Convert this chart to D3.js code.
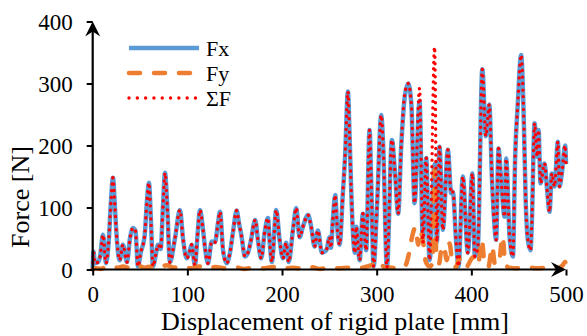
<!DOCTYPE html>
<html>
<head>
<meta charset="utf-8">
<script src="https://cdn.jsdelivr.net/npm/d3@7"></script>
<style>
  body { margin: 0; background: #fff; }
  svg text { font-family: "Liberation Serif", "Times New Roman", serif !important; fill: #000; }
</style>
</head>
<body>
<div id="chart"></div>
<script>
const dispX = [0, 0.8, 2.4, 5.6, 7.7, 10.9, 14.0, 16.9, 19.3, 21.4, 23.5, 24.6, 28.5, 31.9, 36.2, 39.4, 42.6, 45.2, 47.8, 50.9,
  54.9, 57.3, 59.4, 61.5, 63.7, 66.8, 69.0, 71.8, 74.2, 76.4, 78.5, 81.6, 86.9, 92.2, 95.4, 99.3, 101.7, 104.5, 108.0, 110.7,
  113.3, 116.5, 118.6, 121.8, 125.7, 129.2, 132.4, 134.5, 137.7, 141.5, 145.0, 148.2, 152.1, 154.5, 157.3, 160.8, 164.0, 167.2, 171.7, 174.6,
  178.0, 181.6, 185.1, 187.2, 189.3, 193.9, 197.5, 201.0, 204.4, 207.0, 211.5, 215.0, 218.6, 222.1, 227.4, 230.8, 234.4, 237.9, 242.1, 246.7,
  250.3, 251.6, 253.7, 256.2, 258.0, 260.8, 264.3, 266.7, 269.6, 271.4, 273.1, 274.9, 277.0, 278.4, 282.0, 285.4, 288.9, 292.5, 294.2, 296.7,
  300.5, 304.8, 307.1, 310.8, 316.1, 319.2, 322.7, 325.9, 329.8, 333.3, 336.7, 340.0, 345.3, 348.8, 352.3, 355.9, 361.2, 363.6, 366.4, 369.9,
  375.2, 378.7, 380.5, 384.0, 386.5, 391.0, 396.3, 401.1, 403.7, 406.9, 411.6, 415.3, 419.0, 421.7, 423.8, 426.2, 428.7, 431.5, 435.1, 436.8,
  440.4, 443.9, 446.3, 449.1, 452.6, 455.5, 457.3, 459.7, 462.5, 463.9, 466.8, 469.5, 471.0, 473.1, 477.3, 480.1, 482.6, 485.0, 487.9, 491.4,
  493.2, 495.6, 499.1, 500];

const fx = [0, 29, 10, 12, 20, 56, 10, 45, 110, 148, 100, 70, 15, 40, 12, 50, 67, 62, 5, 28,
  55, 110, 140, 80, 5, 25, 40, 33, 100, 156, 110, 12, 50, 96, 50, 18, 25, 40, 7, 55,
  96, 65, 36, 10, 45, 44, 75, 93, 31, 10, 27, 60, 95, 75, 53, 21, 27, 47, 80, 47,
  18, 59, 83, 40, 12, 96, 47, 18, 43, 12, 63, 99, 52, 69, 88, 69, 37, 63, 27, 31,
  52, 35, 80, 120, 75, 40, 123, 185, 287, 214, 128, 60, 27, 69, 15, 90, 31, 225, 144, 5,
  107, 249, 190, 3, 209, 160, 90, 198, 280, 300, 265, 107, 272, 43, 180, 15, 170, 45, 198, 64,
  193, 123, 125, 43, 5, 150, 27, 155, 21, 37, 323, 215, 266, 150, 85, 48, 195, 144, 85, 179,
  53, 21, 182, 268, 346, 236, 117, 48, 31, 75, 236, 182, 225, 139, 171, 128, 93, 155, 134, 206,
  134, 155, 200, 170];

const sumF = [0, 29, 10, 12, 20, 56, 10, 45, 110, 148, 100, 70, 15, 40, 12, 50, 67, 62, 5, 28,
  55, 110, 140, 80, 5, 25, 40, 33, 100, 156, 110, 12, 50, 96, 50, 18, 25, 40, 7, 55,
  96, 65, 36, 10, 45, 44, 75, 93, 31, 10, 27, 60, 95, 75, 53, 21, 27, 47, 80, 47,
  18, 59, 83, 40, 12, 96, 47, 18, 43, 12, 63, 99, 52, 69, 88, 69, 37, 63, 27, 31,
  52, 35, 80, 120, 75, 40, 123, 185, 287, 214, 128, 60, 27, 69, 15, 90, 31, 225, 144, 5,
  107, 249, 190, 3, 209, 160, 90, 198, 285, 300, 265, 107, 292, 43, 180, 15, 359, 45, 198, 64,
  193, 123, 125, 43, 5, 150, 27, 155, 21, 37, 323, 215, 266, 150, 85, 48, 195, 144, 85, 179,
  53, 21, 182, 268, 346, 236, 117, 48, 31, 75, 236, 182, 225, 139, 171, 128, 93, 155, 134, 206,
  134, 155, 200, 170];

// Fy has its own sampling
const fyX = [0, 3, 8, 14, 20, 26, 32, 40, 48, 55, 62, 70, 78, 86, 94, 104, 112, 120, 130, 140,
  150, 160, 170, 180, 190, 200, 210, 220, 230, 240, 250, 260, 270, 280, 290, 296, 302, 308, 316, 322,
  328, 331, 334, 337, 341, 344, 346, 349, 352, 356, 359, 361, 363, 366, 368, 371, 374, 377, 380, 384,
  387, 390, 394, 402, 405, 408, 411, 414, 418, 422, 425, 429, 433, 436, 440, 450, 460, 470, 480, 490,
  496, 499, 500];
const fy = [0, 2, 1, 4, 6, 3, 5, 2, 6, 3, 5, 2, 7, 3, 4, 2, 5, 1, 4, 2,
  4, 1, 3, 2, 4, 1, 3, 2, 4, 1, 3, 2, 3, 2, 5, 8, 14, 4, 3, 2,
  3, 8, 25, 50, 68, 40, 63, 45, 12, 5, 10, 160, 25, 10, 30, 38, 15, 42, 10, 4,
  18, 6, 3, 20, 8, 15, 48, 10, 4, 37, 8, 10, 53, 8, 3, 2, 3, 2, 3, 2,
  6, 12, 8];

const xTicks = [0, 100, 200, 300, 400, 500];
const yTicks = [0, 100, 200, 300, 400];
const legendNames = ["Fx", "Fy", "\u03a3F"];

const cfg = {
  width: 587,
  height: 336,
  margin: { left: 92.7, right: 21, top: 21.5, bottom: 66.5 }
};

const serif = '"Liberation Serif", "Times New Roman", serif';
const colors = { fx: "#5b9bd5", fy: "#ed7d31", sf: "#ff0000" };

const svg = d3.select("#chart")
  .append("svg")
  .attr("width", cfg.width)
  .attr("height", cfg.height)
  .attr("font-family", serif);

const xScale = d3.scaleLinear([0, 500], [cfg.margin.left, cfg.width - cfg.margin.right]);
const yScale = d3.scaleLinear([0, 400], [cfg.height - cfg.margin.bottom, cfg.margin.top]);

// line generator, x and y arrays are passed in as pairs
const line = d3.line()
  .x(d => xScale(d[0]))
  .y(d => yScale(d[1]))
  .curve(d3.curveMonotoneX);

const fxPts = dispX.map((x, i) => [x, fx[i]]);
const sfPts = dispX.map((x, i) => [x, sumF[i]]);
const fyPts = fyX.map((x, i) => [x, fy[i]]);

// series, blue first then orange then red on top
svg.append("path")
  .attr("d", line(fxPts))
  .style("fill", "none")
  .style("stroke", colors.fx)
  .style("stroke-width", 4.5)
  .style("stroke-linejoin", "round");

svg.append("path")
  .attr("d", line(fyPts))
  .style("fill", "none")
  .style("stroke", colors.fy)
  .style("stroke-width", 4.5)
  .style("stroke-linecap", "round")
  .style("stroke-dasharray", "11,14");

svg.append("path")
  .attr("d", line(sfPts))
  .style("fill", "none")
  .style("stroke", colors.sf)
  .style("stroke-width", 3.4)
  .style("stroke-linecap", "round")
  .style("stroke-dasharray", "0.01,6.5");

// axes
const xAxis = d3.axisBottom(xScale).tickValues(xTicks).tickSize(6).tickFormat(d3.format("d"));
const yAxis = d3.axisLeft(yScale).tickValues(yTicks).tickSize(6).tickFormat(d3.format("d"));

const gx = svg.append("g")
  .attr("transform", `translate(0, ${yScale(0)})`)
  .call(xAxis)
  .attr("font-family", serif)
  .attr("font-size", 23);
gx.select(".domain").remove();
gx.selectAll("line").attr("stroke", "#000").attr("stroke-width", 2);
gx.selectAll("text").attr("dy", null).attr("y", 32);

const gy = svg.append("g")
  .attr("transform", `translate(${xScale(0)}, 0)`)
  .call(yAxis)
  .attr("font-family", serif)
  .attr("font-size", 23);
gy.select(".domain").remove();
gy.selectAll("line").attr("stroke", "#000").attr("stroke-width", 2);
gy.selectAll("text").attr("x", -20).attr("dy", "0.34em");

// axis lines with arrow heads
const x0 = xScale(0), y0 = yScale(0);
const xEnd = xScale(500), yEnd = yScale(400);

svg.append("line")
  .attr("x1", x0).attr("x2", xEnd - 6)
  .attr("y1", y0).attr("y2", y0)
  .style("stroke", "#000").style("stroke-width", 2.2);
svg.append("line")
  .attr("x1", x0).attr("x2", x0)
  .attr("y1", y0).attr("y2", yEnd + 6)
  .style("stroke", "#000").style("stroke-width", 2.2);

svg.append("path")
  .attr("d", `M${xEnd},${y0} L${xEnd - 15},${y0 - 7.5} L${xEnd - 10},${y0} L${xEnd - 15},${y0 + 7.5} Z`)
  .style("fill", "#000");
svg.append("path")
  .attr("d", `M${x0},${yEnd} L${x0 - 7.5},${yEnd + 15} L${x0},${yEnd + 10} L${x0 + 7.5},${yEnd + 15} Z`)
  .style("fill", "#000");

// axis titles
svg.append("text")
  .attr("x", 335)
  .attr("y", 330)
  .attr("text-anchor", "middle")
  .style("font-size", "26px")
  .text("Displacement of rigid plate [mm]");

svg.append("text")
  .attr("transform", "translate(29, 197) rotate(-90)")
  .attr("text-anchor", "middle")
  .style("font-size", "26px")
  .text("Force [N]");

// legend
const legendStyles = [
  { stroke: colors.fx, width: 4.5, dash: null, cap: "butt" },
  { stroke: colors.fy, width: 4.5, dash: "11,14", cap: "round" },
  { stroke: colors.sf, width: 3.4, dash: "0.01,8.3", cap: "round" }
];

const legend = svg.append("g").attr("class", "legend");
legendNames.forEach((name, i) => {
  const ly = 48 + i * 25;
  legend.append("line")
    .attr("x1", 129).attr("x2", 199)
    .attr("y1", ly).attr("y2", ly)
    .style("stroke", legendStyles[i].stroke)
    .style("stroke-width", legendStyles[i].width)
    .style("stroke-linecap", legendStyles[i].cap)
    .style("stroke-dasharray", legendStyles[i].dash);
  legend.append("text")
    .attr("x", 206)
    .attr("y", ly)
    .attr("dy", "0.35em")
    .style("font-size", "22px")
    .text(name);
});
</script>
</body>
</html>
